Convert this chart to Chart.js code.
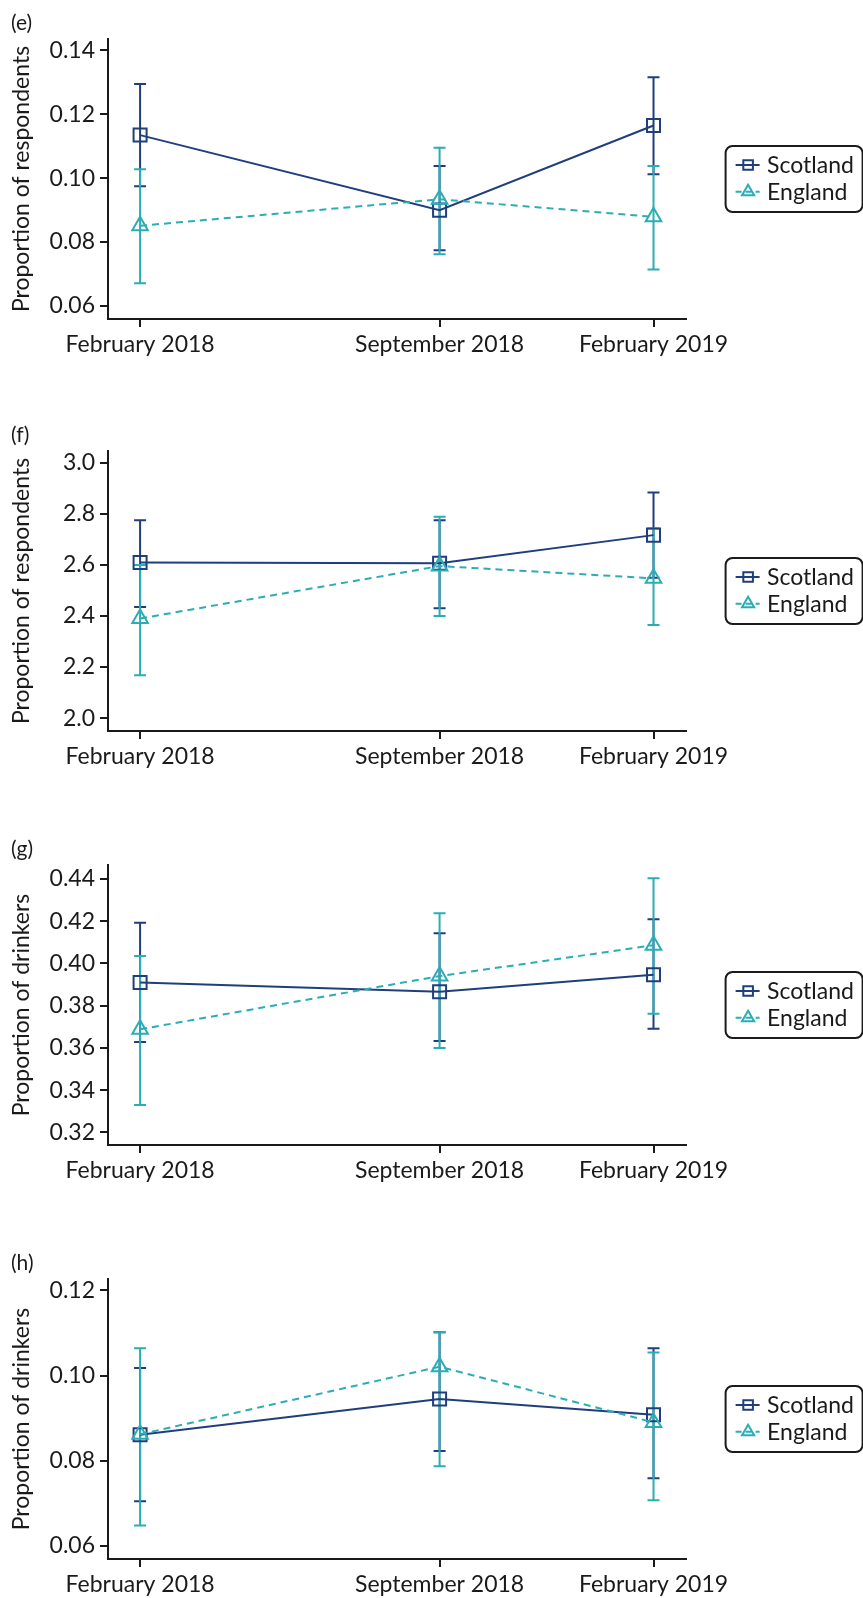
<!DOCTYPE html>
<html>
<head>
<meta charset="utf-8">
<script src="https://cdn.jsdelivr.net/npm/chart.js@4.4.1/dist/chart.umd.min.js"></script>
<style>
  html, body { margin: 0; padding: 0; background: #fff; overflow: hidden; }
  #wrap { position: relative; width: 863px; height: 1598px; }
  canvas { position: absolute; left: 0; }
</style>
</head>
<body>
<div id="wrap">
  <canvas id="panel-e" width="863" height="413" style="top:0px"></canvas>
  <canvas id="panel-f" width="863" height="413" style="top:412px"></canvas>
  <canvas id="panel-g" width="863" height="413" style="top:826px"></canvas>
  <canvas id="panel-h" width="863" height="413" style="top:1240px"></canvas>
</div>
<script>
// Survey waves, placed by months elapsed since February 2018
const waveMonths = [0, 7, 12];
const waveLabels = ['February 2018', 'September 2018', 'February 2019'];
const seriesNames = ['Scotland', 'England'];

// (e) estimates with 95% confidence limits
const eScotland     = [0.1135, 0.0900, 0.1165];
const eScotlandLow  = [0.0975, 0.0774, 0.1012];
const eScotlandHigh = [0.1295, 0.1038, 0.1316];
const eEngland      = [0.0851, 0.0934, 0.0879];
const eEnglandLow   = [0.0671, 0.0762, 0.0714];
const eEnglandHigh  = [0.1028, 0.1095, 0.1038];
const eTicks = [0.06, 0.08, 0.10, 0.12, 0.14];

// (f)
const fScotland     = [2.609, 2.606, 2.716];
const fScotlandLow  = [2.435, 2.430, 2.549];
const fScotlandHigh = [2.774, 2.774, 2.883];
const fEngland      = [2.390, 2.595, 2.547];
const fEnglandLow   = [2.168, 2.400, 2.365];
const fEnglandHigh  = [2.599, 2.788, 2.742];
const fTicks = [2.0, 2.2, 2.4, 2.6, 2.8, 3.0];

// (g)
const gScotland     = [0.3910, 0.3866, 0.3946];
const gScotlandLow  = [0.3628, 0.3633, 0.3690];
const gScotlandHigh = [0.4193, 0.4143, 0.4209];
const gEngland      = [0.3688, 0.3940, 0.4086];
const gEnglandLow   = [0.3330, 0.3599, 0.3762];
const gEnglandHigh  = [0.4035, 0.4238, 0.4403];
const gTicks = [0.32, 0.34, 0.36, 0.38, 0.40, 0.42, 0.44];

// (h)
const hScotland     = [0.0861, 0.0945, 0.0908];
const hScotlandLow  = [0.0705, 0.0823, 0.0759];
const hScotlandHigh = [0.1018, 0.1102, 0.1064];
const hEngland      = [0.0862, 0.1021, 0.0890];
const hEnglandLow   = [0.0648, 0.0787, 0.0707];
const hEnglandHigh  = [0.1064, 0.1102, 0.1054];
const hTicks = [0.06, 0.08, 0.10, 0.12];

const INK = '#1a1a1a';
const NAVY = '#1f3f7c';
const TEAL = '#2badb6';
const FONT = 'Lato, "Open Sans", sans-serif';
const TEXT_SIZE = 23;

const panels = [
  { id: 'panel-e', tag: '(e)', yTitle: 'Proportion of respondents', ticks: eTicks, decimals: 2, yMin: 0.0559, yMax: 0.1436,
    scot: [eScotland, eScotlandLow, eScotlandHigh], eng: [eEngland, eEnglandLow, eEnglandHigh] },
  { id: 'panel-f', tag: '(f)', yTitle: 'Proportion of respondents', ticks: fTicks, decimals: 1, yMin: 1.950, yMax: 3.045,
    scot: [fScotland, fScotlandLow, fScotlandHigh], eng: [fEngland, fEnglandLow, fEnglandHigh] },
  { id: 'panel-g', tag: '(g)', yTitle: 'Proportion of drinkers', ticks: gTicks, decimals: 2, yMin: 0.3140, yMax: 0.4466,
    scot: [gScotland, gScotlandLow, gScotlandHigh], eng: [gEngland, gEnglandLow, gEnglandHigh] },
  { id: 'panel-h', tag: '(h)', yTitle: 'Proportion of drinkers', ticks: hTicks, decimals: 2, yMin: 0.0569, yMax: 0.1227,
    scot: [hScotland, hScotlandLow, hScotlandHigh], eng: [hEngland, hEnglandLow, hEnglandHigh] }
];

// Vertical confidence-interval bars with caps, drawn beneath the lines and markers
const errorBars = {
  id: 'errorBars',
  beforeDatasetsDraw(chart) {
    const { ctx } = chart;
    const xs = chart.scales.x, ys = chart.scales.y;
    chart.data.datasets.forEach(ds => {
      ctx.save();
      ctx.strokeStyle = ds.borderColor;
      ctx.lineWidth = 2;
      ctx.setLineDash([]);
      ds.data.forEach((p, j) => {
        const x = xs.getPixelForValue(p.x);
        const yLo = ys.getPixelForValue(ds.low[j]);
        const yHi = ys.getPixelForValue(ds.high[j]);
        ctx.beginPath();
        ctx.moveTo(x, yLo); ctx.lineTo(x, yHi);
        ctx.moveTo(x - 6, yLo); ctx.lineTo(x + 6, yLo);
        ctx.moveTo(x - 6, yHi); ctx.lineTo(x + 6, yHi);
        ctx.stroke();
      });
      ctx.restore();
    });
  }
};

function roundedRect(ctx, x, y, w, h, r) {
  ctx.beginPath();
  ctx.moveTo(x + r, y);
  ctx.arcTo(x + w, y, x + w, y + h, r);
  ctx.arcTo(x + w, y + h, x, y + h, r);
  ctx.arcTo(x, y + h, x, y, r);
  ctx.arcTo(x, y, x + w, y, r);
  ctx.closePath();
}

// Panel letter and boxed legend at the right of the plot
const panelDecor = {
  id: 'panelDecor',
  afterDraw(chart, args, opts) {
    const { ctx, chartArea } = chart;
    ctx.save();
    ctx.fillStyle = INK;
    ctx.textBaseline = 'alphabetic';
    ctx.font = '21px ' + FONT;
    ctx.fillText(opts.tag, 11, 29.5);

    const bw = 137, bh = 66;
    const bx = chartArea.right + 40;
    const by = (chartArea.top + chartArea.bottom) / 2 - bh / 2;
    roundedRect(ctx, bx, by, bw, bh, 7);
    ctx.strokeStyle = INK;
    ctx.lineWidth = 2;
    ctx.stroke();

    const rows = [by + 19, by + 45.7];
    chart.data.datasets.forEach((ds, i) => {
      const cy = rows[i];
      const cx = bx + 22.5;
      ctx.strokeStyle = ds.borderColor;
      ctx.lineWidth = 2;
      ctx.setLineDash(i === 0 ? [] : [6, 4]);
      ctx.beginPath();
      ctx.moveTo(bx + 10, cy); ctx.lineTo(bx + 34, cy);
      ctx.stroke();
      ctx.setLineDash([]);
      ctx.beginPath();
      if (i === 0) {
        ctx.rect(cx - 4.8, cy - 4.8, 9.6, 9.6);
      } else {
        const r = 7;
        ctx.moveTo(cx, cy - r);
        ctx.lineTo(cx + r * 0.866, cy + r / 2);
        ctx.lineTo(cx - r * 0.866, cy + r / 2);
        ctx.closePath();
      }
      ctx.stroke();
      ctx.fillStyle = INK;
      ctx.font = TEXT_SIZE + 'px ' + FONT;
      ctx.fillText(ds.label, bx + 41.5, cy + 8);
    });
    ctx.restore();
  }
};

function series(values) {
  return waveMonths.map((m, j) => ({ x: m, y: values[j] }));
}

panels.forEach(p => {
  new Chart(document.getElementById(p.id), {
    type: 'line',
    data: {
      datasets: [
        {
          label: seriesNames[0],
          data: series(p.scot[0]), low: p.scot[1], high: p.scot[2],
          borderColor: NAVY, backgroundColor: 'transparent', borderWidth: 2,
          pointStyle: 'rect', pointRadius: 9.2, pointBorderWidth: 2,
          pointBorderColor: NAVY, pointBackgroundColor: 'rgba(0,0,0,0)',
          tension: 0, order: 1
        },
        {
          label: seriesNames[1],
          data: series(p.eng[0]), low: p.eng[1], high: p.eng[2],
          borderColor: TEAL, backgroundColor: 'transparent', borderWidth: 2,
          borderDash: [7, 5],
          pointStyle: 'triangle', pointRadius: 9, pointBorderWidth: 2,
          pointBorderColor: TEAL, pointBackgroundColor: 'rgba(0,0,0,0)',
          tension: 0, order: 0
        }
      ]
    },
    options: {
      responsive: false,
      animation: false,
      events: [],
      devicePixelRatio: 1,
      layout: { padding: { top: 39, right: 177.4, bottom: 0, left: 0 } },
      plugins: {
        legend: { display: false },
        tooltip: { enabled: false },
        panelDecor: { tag: p.tag }
      },
      scales: {
        x: {
          type: 'linear',
          min: -0.75, max: 12.75,
          afterBuildTicks: s => { s.ticks = waveMonths.map(v => ({ value: v })); },
          afterFit: s => { s.height = 94; },
          ticks: {
            autoSkip: false, maxRotation: 0, padding: 4, color: INK,
            font: { family: FONT, size: TEXT_SIZE },
            callback: v => waveLabels[waveMonths.indexOf(v)]
          },
          grid: { drawOnChartArea: false, drawTicks: true, tickLength: 8, color: INK, lineWidth: 2 },
          border: { display: true, color: INK, width: 2 }
        },
        y: {
          type: 'linear',
          min: p.yMin, max: p.yMax,
          afterBuildTicks: s => { s.ticks = p.ticks.map(v => ({ value: v })); },
          afterFit: s => { s.width = 108; },
          ticks: {
            padding: 5, color: INK,
            font: { family: FONT, size: TEXT_SIZE },
            callback: v => Number(v).toFixed(p.decimals)
          },
          title: {
            display: true, text: p.yTitle, color: INK,
            font: { family: FONT, size: TEXT_SIZE },
            padding: { top: 8, bottom: 0 }
          },
          grid: { drawOnChartArea: false, drawTicks: true, tickLength: 8, color: INK, lineWidth: 2 },
          border: { display: true, color: INK, width: 2 }
        }
      }
    },
    plugins: [errorBars, panelDecor]
  });
});
</script>
</body>
</html>
